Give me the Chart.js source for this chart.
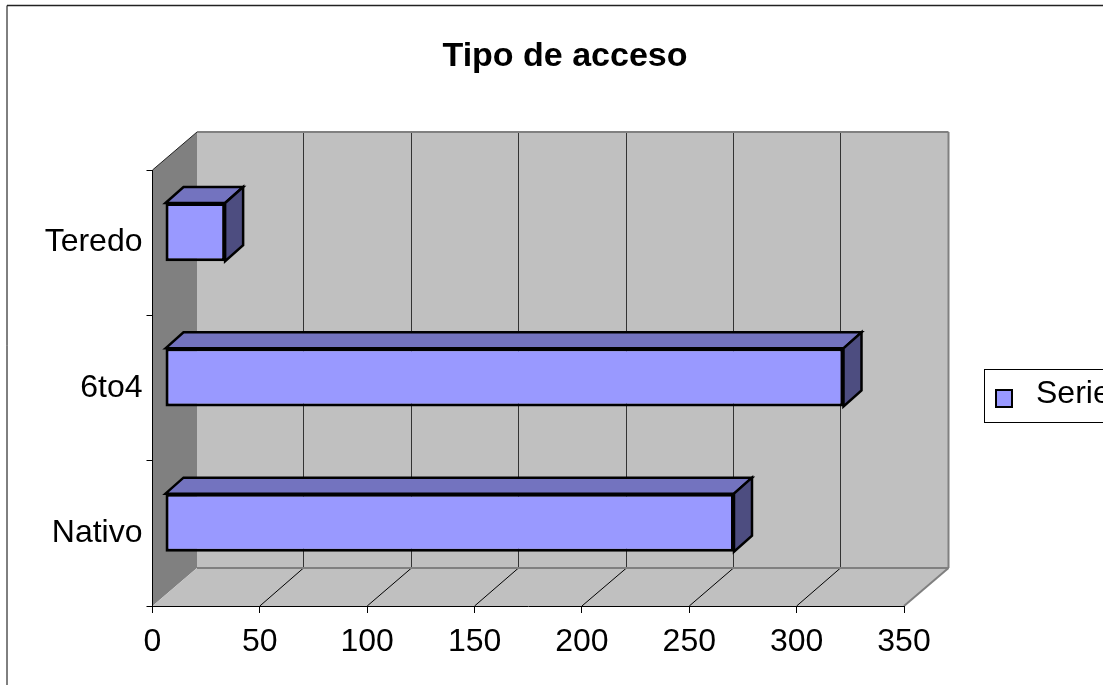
<!DOCTYPE html>
<html>
<head>
<meta charset="utf-8">
<title>Tipo de acceso</title>
<script src="https://cdn.jsdelivr.net/npm/chart.js@4"></script>
<style>
    html, body { margin: 0; padding: 0; background: #fff; overflow: hidden; }
    canvas { display: block; }
</style>
</head>
<body>
<canvas id="accessChart" width="1103" height="685"></canvas>
<script>
// Chart data
const categories = ['Teredo', '6to4', 'Nativo'];
const serieName = 'Serie1';
const serieValues = [28, 316, 265];
const axisMax = 350;
const axisStep = 50;

const FONT = '"Liberation Sans Narrow", "Liberation Sans", Arial, sans-serif';

// Offsets of the fake 3D box
const WALL_DX = 44.5, WALL_DY = -38;
const GRID_DX = 43.6;
const BAR_SHIFT_X = 12.5, BAR_SHIFT_Y = -10.6;
const BAR_DX = 18, BAR_DY = -16;

const COLOR_FACE = '#9999FF';
const COLOR_TOP = '#7373BF';
const COLOR_SIDE = '#4D4D80';
const COLOR_WALL = '#C0C0C0';
const COLOR_SHADE = '#808080';

function polygon(ctx, points, fill) {
    ctx.beginPath();
    points.forEach((p, i) => i ? ctx.lineTo(p[0], p[1]) : ctx.moveTo(p[0], p[1]));
    ctx.closePath();
    if (fill) {
        ctx.fillStyle = fill;
        ctx.fill();
    }
}

function line(ctx, x1, y1, x2, y2, color, width) {
    ctx.beginPath();
    ctx.moveTo(x1, y1);
    ctx.lineTo(x2, y2);
    ctx.strokeStyle = color;
    ctx.lineWidth = width;
    ctx.stroke();
}

// Page frame, walls, floor and gridlines go under the axes
const boxPlugin = {
    id: 'box3d',
    afterLayout(chart) {
        chart.titleBlock.left = 27;
        chart.titleBlock.right = 1103;
        chart.legend.left = 1020;
        chart.legend.right = 1103;
        chart.legend.top = 378;
        chart.legend.bottom = 420;
    },
    beforeDraw(chart) {
        const { ctx, chartArea: a, scales: { x } } = chart;
        ctx.save();
        ctx.fillStyle = '#fff';
        ctx.fillRect(0, 0, chart.width, chart.height);

        line(ctx, 7, 685, 7, 5.5, '#000', 1);
        line(ctx, 7, 5.5, 1103, 5.5, '#222', 1.5);

        const bl = a.left + WALL_DX, br = a.right + WALL_DX;
        const bt = a.top + WALL_DY, bb = a.bottom + WALL_DY;

        ctx.fillStyle = COLOR_WALL;
        ctx.fillRect(bl, bt, br - bl, bb - bt);
        polygon(ctx, [[a.left, a.top], [bl, bt], [bl, bb], [a.left, a.bottom]], COLOR_SHADE);
        polygon(ctx, [[a.left, a.bottom], [bl, bb], [br, bb], [a.right, a.bottom]], COLOR_WALL);

        x.ticks.forEach(t => {
            const px = x.getPixelForValue(t.value);
            if (t.value > 0 && t.value < axisMax) {
                const gx = Math.round(px + GRID_DX) + 0.5;
                line(ctx, px, a.bottom, gx, bb, '#000', 1);
                line(ctx, gx, bb, gx, bt, '#333', 1);
            }
        });

        line(ctx, bl, bt, br, bt, COLOR_SHADE, 2);
        line(ctx, br, bt, br, bb, COLOR_SHADE, 2);
        line(ctx, bl, bb, br, bb, COLOR_SHADE, 2);
        line(ctx, br, bb, a.right, a.bottom, COLOR_SHADE, 2);
        line(ctx, a.left, a.top, bl, bt, '#222', 1);
        ctx.restore();
    },
    // Top and end faces first, the library paints the front face over them
    beforeDatasetsDraw(chart) {
        const { ctx } = chart;
        ctx.save();
        ctx.translate(BAR_SHIFT_X, BAR_SHIFT_Y);
        chart.getDatasetMeta(0).data.forEach(bar => {
            const l = bar.base, r = bar.x;
            const t = bar.y - bar.height / 2, b = bar.y + bar.height / 2;
            ctx.strokeStyle = '#000';
            ctx.lineWidth = 2.5;
            ctx.lineJoin = 'miter';
            polygon(ctx, [[l, t], [l + BAR_DX, t + BAR_DY], [r + BAR_DX, t + BAR_DY], [r, t]], COLOR_TOP);
            ctx.stroke();
            polygon(ctx, [[r, t], [r + BAR_DX, t + BAR_DY], [r + BAR_DX, b + BAR_DY], [r, b]], COLOR_SIDE);
            ctx.stroke();
        });
    },
    afterDatasetsDraw(chart) {
        chart.ctx.restore();
    },
    // Legend frame and swatch
    afterDraw(chart) {
        const { ctx } = chart;
        ctx.save();
        ctx.strokeStyle = '#000';
        ctx.lineWidth = 1;
        ctx.strokeRect(984.5, 369.5, 130, 53);
        ctx.fillStyle = COLOR_FACE;
        ctx.lineWidth = 2;
        ctx.fillRect(996, 390, 16, 17);
        ctx.strokeRect(996, 390, 16, 17);
        ctx.restore();
    }
};

new Chart(document.getElementById('accessChart'), {
    type: 'bar',
    data: {
        labels: categories,
        datasets: [{
            label: serieName,
            data: serieValues,
            backgroundColor: COLOR_FACE,
            borderColor: '#000',
            borderWidth: 3,
            borderSkipped: false,
            barPercentage: 1,
            categoryPercentage: 0.4
        }]
    },
    options: {
        indexAxis: 'y',
        responsive: false,
        animation: false,
        layout: { padding: { left: 0, right: 199, top: 0, bottom: 0 } },
        plugins: {
            tooltip: { enabled: false },
            title: {
                display: true,
                text: 'Tipo de acceso',
                color: '#000',
                font: { family: FONT, size: 34, weight: 'bold', lineHeight: 1.2 },
                padding: { top: 36, bottom: 93.2 }
            },
            legend: {
                position: 'chartArea',
                align: 'start',
                onClick: null,
                labels: {
                    color: '#000',
                    font: { family: FONT, size: 32 },
                    padding: 0,
                    boxWidth: 0,
                    boxHeight: 0,
                    generateLabels: () => [{
                        text: serieName,
                        fillStyle: 'transparent',
                        strokeStyle: 'transparent',
                        lineWidth: 0
                    }]
                }
            }
        },
        scales: {
            x: {
                min: 0,
                max: axisMax,
                afterFit: s => { s.height = 79; },
                border: { display: true, color: '#000', width: 1 },
                grid: { drawOnChartArea: false, color: '#000', tickLength: 7 },
                ticks: {
                    stepSize: axisStep,
                    color: '#000',
                    padding: 10,
                    maxRotation: 0,
                    font: { family: FONT, size: 32 }
                }
            },
            y: {
                afterFit: s => { s.width = 152.5; },
                border: { display: true, color: '#000', width: 1 },
                grid: { drawOnChartArea: false, color: '#000', tickLength: 6 },
                ticks: {
                    color: '#000',
                    padding: 4,
                    font: { family: FONT, size: 32 }
                }
            }
        }
    },
    plugins: [boxPlugin]
});
</script>
</body>
</html>
